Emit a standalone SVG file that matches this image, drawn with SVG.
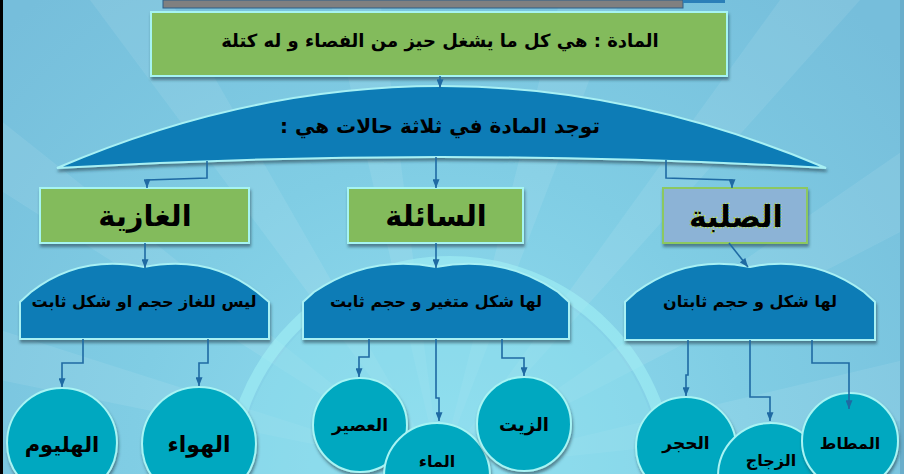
<svg xmlns="http://www.w3.org/2000/svg" width="904" height="474" viewBox="0 0 904 474">
<defs>
<radialGradient id="bg" cx="440" cy="470" r="620" gradientUnits="userSpaceOnUse">
<stop offset="0" stop-color="#92def0"/>
<stop offset="0.5" stop-color="#80cde4"/>
<stop offset="1" stop-color="#76bedb"/>
</radialGradient>
<filter id="sh" x="-10%" y="-10%" width="130%" height="140%">
<feDropShadow dx="1" dy="3" stdDeviation="1.5" flood-color="#1b3a4a" flood-opacity="0.55"/>
</filter>
<marker id="ah" viewBox="0 0 10 8" refX="10" refY="4" markerWidth="10" markerHeight="7" orient="auto" markerUnits="userSpaceOnUse">
<path d="M0,0 L10,4 L0,8 Z" fill="#1f6aa3"/>
</marker>
<style>
.green{fill:#83bb5b;stroke:#a6f4f2;stroke-width:2;filter:url(#sh)}
.solid{fill:#8cb3d6;stroke:#8cc860;stroke-width:2;filter:url(#sh)}
.dome{fill:#0a7cb6;stroke:#a8f0f4;stroke-width:2;filter:url(#sh)}
.circ{fill:#04a8c0;stroke:#a8f4f4;stroke-width:2;filter:url(#sh)}
.t{font-family:"DejaVu Sans",sans-serif;font-weight:bold;fill:#000;text-anchor:middle;direction:rtl}
.c{fill:none;stroke:#1f6aa3;stroke-width:1.6;marker-end:url(#ah)}
</style>
</defs>

<!-- background -->
<rect x="0" y="0" width="904" height="474" fill="url(#bg)"/>
<g opacity="0.08" fill="#ffffff">
<polygon points="440,470 0,120 0,190"/>
<polygon points="440,470 90,0 170,0"/>
<polygon points="440,470 330,0 380,0"/>
<polygon points="440,470 560,0 620,0"/>
<polygon points="440,470 780,0 860,0"/>
<polygon points="440,470 904,150 904,230"/>
<polygon points="440,470 904,360 904,420"/>
<polygon points="440,470 0,330 0,380"/>
</g>
<circle cx="450" cy="482" r="212" fill="#8fe0ee" opacity="0.4"/>
<circle cx="450" cy="482" r="220" fill="none" stroke="#a6f6f8" stroke-width="12" opacity="0.5"/>
<rect x="0" y="0" width="3" height="474" fill="#000"/>
<rect x="900" y="0" width="4" height="474" fill="#6aaecb"/>

<!-- top bars -->
<g id="topbar">
<rect x="163" y="0" width="520" height="8" fill="#808080" stroke="#2c5f88" stroke-width="1"/>
<rect x="683" y="0" width="42" height="3" fill="#2b7fb8"/>
</g>

<g id="definition">
<rect class="green" x="151" y="12" width="576" height="64"/>
<text class="t" x="440" y="47" font-size="18">المادة : هي كل ما يشغل حيز من الفصاء و له كتلة</text>
</g>

<g id="states">
<path class="dome" d="M57,168 Q440,4 826,168 Q440,146 57,168 Z"/>
<text class="t" x="440" y="133" font-size="20">توجد المادة في ثلاثة حالات هي :</text>
</g>

<g id="gas">
<rect class="green" x="40" y="188" width="209" height="55"/>
<text class="t" x="145" y="226" font-size="29">الغازية</text>
</g>
<g id="liquid">
<rect class="green" x="348" y="188" width="175" height="55"/>
<text class="t" x="436" y="226" font-size="29">السائلة</text>
</g>
<g id="solid">
<rect class="solid" x="663" y="188" width="144" height="55"/>
<text class="t" x="736" y="227" font-size="30" stroke="#b8d840" stroke-width="2.5" paint-order="stroke" stroke-dasharray="1 2">الصلبة</text>
</g>

<g id="gasDesc">
<path class="dome" d="M20,339 V302 L31,292 Q80,254 144,267 Q208,254 257,292 L269,302 V339 Z"/>
<text class="t" x="144" y="307" font-size="16">ليس للغاز حجم او شكل ثابت</text>
</g>
<g id="liquidDesc">
<path class="dome" d="M303,339 V302 L314,292 Q370,254 436,267 Q502,254 558,292 L569,302 V339 Z"/>
<text class="t" x="436" y="307" font-size="16">لها شكل متغير و حجم ثابت</text>
</g>
<g id="solidDesc">
<path class="dome" d="M625,340 V302 L636,292 Q688,254 750,267 Q812,254 864,292 L875,302 V340 Z"/>
<text class="t" x="750" y="307" font-size="16">لها شكل و حجم ثابتان</text>
</g>

<g id="helium"><circle class="circ" cx="62" cy="443" r="55"/><text class="t" x="62" y="452" font-size="21">الهليوم</text></g>
<g id="air"><circle class="circ" cx="199" cy="444" r="57"/><text class="t" x="199" y="452" font-size="22">الهواء</text></g>
<g id="juice"><circle class="circ" cx="360" cy="425" r="47"/><text class="t" x="360" y="431" font-size="17">العصير</text></g>
<g id="water"><circle class="circ" cx="437" cy="476" r="53"/><text class="t" x="437" y="467" font-size="16">الماء</text></g>
<g id="oil"><circle class="circ" cx="524" cy="424" r="47"/><text class="t" x="524" y="431" font-size="18">الزيت</text></g>
<g id="stone"><circle class="circ" cx="686" cy="447" r="50"/><text class="t" x="686" y="449" font-size="17">الحجر</text></g>
<g id="glass"><circle class="circ" cx="771" cy="476" r="53"/><text class="t" x="771" y="466" font-size="16">الزجاج</text></g>
<g id="rubber"><circle class="circ" cx="850" cy="441" r="48"/><text class="t" x="850" y="449" font-size="16">المطاط</text></g>

<g id="connectors">
<path class="c" d="M440,76 V88"/>
<path class="c" d="M207,161 V178 L147,180 V188"/>
<path class="c" d="M436,157 V188"/>
<path class="c" d="M666,160 V178 L732,180 V188"/>
<path class="c" d="M145,243 V268"/>
<path class="c" d="M436,243 V268"/>
<path class="c" d="M729,243 L748,267"/>
<path class="c" d="M83,339 V363 H62 V387"/>
<path class="c" d="M208,339 V363 H199 V386"/>
<path class="c" d="M369,339 V357 H359 V377"/>
<path class="c" d="M436,339 V398 H439 V421"/>
<path class="c" d="M502,339 V358 H524 V376"/>
<path class="c" d="M688,340 V375 H686 V396"/>
<path class="c" d="M750,340 V397 H770 V421"/>
<path class="c" d="M812,340 V363 H849 V409"/>
</g>
</svg>
